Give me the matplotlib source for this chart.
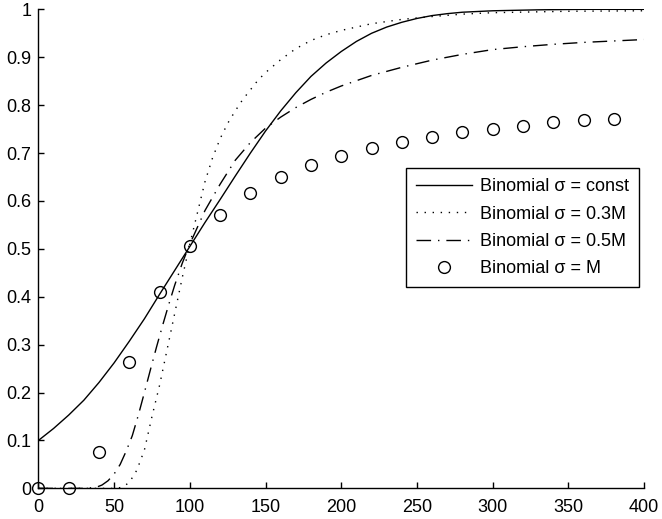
import matplotlib
matplotlib.use('Agg')
import matplotlib.pyplot as plt

plt.rcParams['font.family'] = ['Liberation Sans', 'DejaVu Sans']

# sigma = const
x_const = [0, 10, 20, 30, 40, 50, 60, 70, 80, 90, 100, 110, 120, 130, 140, 150, 160, 170, 180, 190,
           200, 210, 220, 230, 240, 250, 260, 270, 280, 300, 330, 360, 400]
y_const = [0.100, 0.125, 0.153, 0.184, 0.221, 0.262, 0.307, 0.354, 0.405, 0.455, 0.505, 0.555, 0.603,
           0.652, 0.700, 0.746, 0.788, 0.826, 0.860, 0.888, 0.912, 0.933, 0.950, 0.963, 0.973, 0.981,
           0.987, 0.991, 0.994, 0.997, 0.999, 1.0, 1.0]

# sigma = 0.3M
x_03 = [0, 50, 55, 60, 65, 70, 75, 80, 85, 90, 95, 100, 105, 110, 115, 120, 125, 130, 135, 140, 145,
        150, 160, 170, 180, 190, 200, 220, 240, 260, 280, 300, 350, 400]
y_03 = [0, 0, 0.002, 0.012, 0.038, 0.08, 0.15, 0.215, 0.29, 0.365, 0.44, 0.51, 0.575, 0.64, 0.69,
        0.73, 0.762, 0.788, 0.812, 0.832, 0.852, 0.868, 0.895, 0.918, 0.935, 0.947, 0.956, 0.970,
        0.979, 0.985, 0.990, 0.993, 0.996, 0.997]

# sigma = 0.5M
x_05 = [0, 30, 38, 42, 46, 50, 54, 58, 62, 66, 70, 74, 78, 82, 86, 90, 95, 100, 110, 120, 130, 140,
        150, 160, 170, 180, 190, 200, 220, 240, 260, 280, 300, 320, 340, 360, 380, 400]
y_05 = [0, 0, 0.002, 0.007, 0.016, 0.03, 0.05, 0.078, 0.11, 0.153, 0.2, 0.248, 0.295, 0.34, 0.383,
        0.424, 0.47, 0.51, 0.58, 0.635, 0.685, 0.722, 0.752, 0.775, 0.795, 0.812, 0.827, 0.84, 0.862,
        0.879, 0.894, 0.906, 0.916, 0.922, 0.927, 0.931, 0.934, 0.937]

# sigma = M
x_m = [0, 20, 40, 60, 80, 100, 120, 140, 160, 180, 200, 220, 240, 260, 280, 300, 320, 340, 360, 380]
y_m = [0.0, 0.0, 0.075, 0.263, 0.409, 0.507, 0.571, 0.617, 0.650, 0.675, 0.694, 0.710, 0.723,
       0.733, 0.743, 0.750, 0.757, 0.764, 0.768, 0.771]

fig = plt.figure(figsize=(6.62, 5.19), dpi=100)
ax = fig.add_axes([0.058, 0.059, 0.915, 0.923])

ax.plot(x_const, y_const, color='black', lw=1.0, label='Binomial σ = const')
ax.plot(x_03, y_03, color='black', lw=1.0, dashes=(1, 4.8), label='Binomial σ = 0.3M')
ax.plot(x_05, y_05, color='black', lw=1.0, dashes=(10.5, 5, 1, 5), label='Binomial σ = 0.5M')
ax.plot(x_m, y_m, 'o', color='black', ms=8.5, mfc='none', mew=1.0, label='Binomial σ = M',
        clip_on=False)

ax.set_xlim(0, 400)
ax.set_ylim(0, 1)
ax.set_xticks(range(0, 401, 50))
ax.set_yticks([i / 10 for i in range(11)])
ax.set_yticklabels(['0', '0.1', '0.2', '0.3', '0.4', '0.5', '0.6', '0.7', '0.8', '0.9', '1'])
ax.spines['top'].set_visible(False)
ax.spines['right'].set_visible(False)
ax.spines['left'].set_linewidth(1.0)
ax.spines['bottom'].set_linewidth(1.0)
ax.tick_params(direction='in', length=4, width=1.0, labelsize=13, color='black')
ax.tick_params(axis='x', pad=8)
ax.tick_params(axis='y', pad=5)

leg = ax.legend(loc='upper right', bbox_to_anchor=(0.992, 0.668), borderaxespad=0,
                fontsize=13, handlelength=3.1, handletextpad=0.45, labelspacing=0.57,
                borderpad=0.55, fancybox=False, framealpha=1, edgecolor='black')
leg.get_frame().set_linewidth(1.0)

fig.savefig('out.png', dpi=100)
